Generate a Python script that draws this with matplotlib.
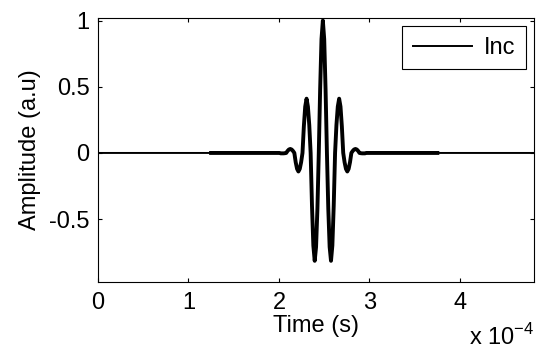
import matplotlib
matplotlib.use("Agg")
import matplotlib.pyplot as plt
import numpy as np

plt.rcParams["font.family"] = ["Liberation Sans", "DejaVu Sans"]

# time in units of 1e-4 s
burst_t = [
    1.96, 1.975, 1.99, 2.005, 2.02, 2.035, 2.05, 2.065, 2.08, 2.095,
    2.11, 2.125, 2.14, 2.155, 2.17, 2.185, 2.20, 2.215, 2.23, 2.245,
    2.26, 2.275, 2.29, 2.305, 2.32, 2.335, 2.35, 2.365, 2.38, 2.395,
    2.41, 2.425, 2.44, 2.455, 2.47, 2.485, 2.50, 2.515, 2.53, 2.545,
    2.56, 2.575, 2.59, 2.605, 2.62, 2.635, 2.65, 2.665, 2.68, 2.695,
    2.71, 2.725, 2.74, 2.755, 2.77, 2.785, 2.80, 2.815, 2.83, 2.845,
    2.86, 2.875, 2.89, 2.905, 2.92, 2.935, 2.95, 2.965, 2.98, 2.995,
    3.01, 3.025, 3.04,
]
burst_amp = [
    0.0, 0.0, 0.0, 0.0, -0.003, -0.003, -0.003, -0.002, 0.0, 0.015,
    0.026, 0.03, 0.026, 0.015, 0.0, -0.07, -0.12, -0.14, -0.12, -0.07,
    0.0, 0.20, 0.35, 0.41, 0.35, 0.21, 0.0, -0.40, -0.70, -0.815,
    -0.71, -0.42, 0.0, 0.48, 0.86, 1.00, 0.86, 0.48, 0.0, -0.42,
    -0.71, -0.815, -0.70, -0.40, 0.0, 0.21, 0.35, 0.41, 0.35, 0.20,
    0.0, -0.07, -0.12, -0.14, -0.12, -0.07, 0.0, 0.015, 0.026, 0.03,
    0.026, 0.015, 0.0, -0.002, -0.003, -0.003, -0.003, 0.0, 0.0, 0.0,
    0.0, 0.0, 0.0,
]

t_start, t_end = 0.0, 4.82
overlay_start, overlay_end = 1.25, 3.75

x_ticks = [0, 1, 2, 3, 4]
y_ticks = [-0.5, 0, 0.5, 1]
y_tick_labels = ["-0.5", "0", "0.5", "1"]

scale = 1e-4
full_t = np.array([t_start] + burst_t + [t_end]) * scale
full_a = [0.0] + burst_amp + [0.0]
over_t = np.array([overlay_start] + burst_t + [overlay_end]) * scale
over_a = [0.0] + burst_amp + [0.0]

FS = 17

fig = plt.figure(figsize=(5.44, 3.59), dpi=100)
ax = fig.add_axes([0.180, 0.2145, 0.802, 0.7355])

ax.plot(full_t, full_a, color="black", lw=1.4, label="Inc")
ax.plot(over_t, over_a, color="black", lw=2.8)

ax.set_xlim(0, t_end * scale)
ax.set_ylim(-0.975, 1.02)
ax.set_xticks(np.array(x_ticks) * scale)
ax.set_xticklabels([str(v) for v in x_ticks])
ax.set_yticks(y_ticks)
ax.set_yticklabels(y_tick_labels)

ax.tick_params(direction="in", length=3, width=0.8, labelsize=FS,
               top=True, right=True)
ax.tick_params(axis="x", pad=7)
ax.tick_params(axis="y", pad=6)
for s in ax.spines.values():
    s.set_linewidth(0.8)

ax.set_xlabel("Time (s)", fontsize=FS, labelpad=1)
ax.set_ylabel("Amplitude (a.u)", fontsize=FS, labelpad=6)

fig.text(0.982, 0.025, r"x 10$^{\mathregular{-4}}$", fontsize=FS,
         ha="right", va="bottom")

leg = ax.legend(loc="upper right", fontsize=FS, handlelength=2.5,
                borderaxespad=0.35, fancybox=False, framealpha=1,
                borderpad=0.45, handletextpad=0.5)
leg.get_frame().set_edgecolor("black")
leg.get_frame().set_linewidth(0.8)

fig.savefig("out.png", dpi=100)
